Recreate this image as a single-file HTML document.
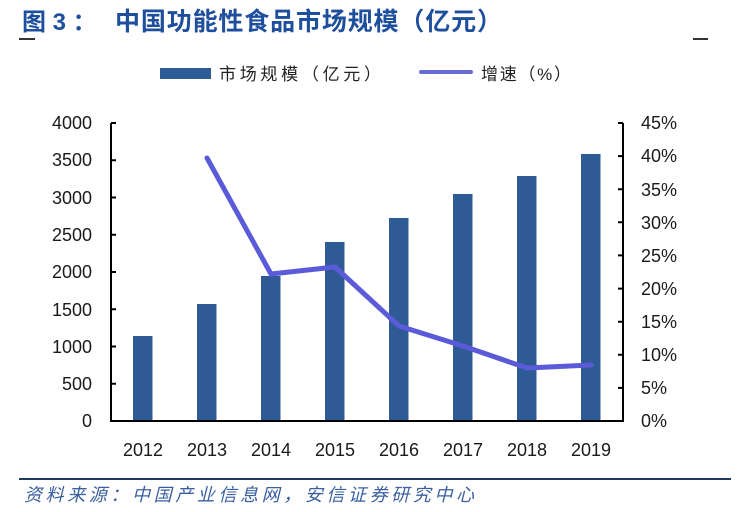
<!DOCTYPE html>
<html><head><meta charset="utf-8"><style>
html,body{margin:0;padding:0;background:#fff;}
svg{display:block;}
.t{font-family:"Liberation Sans",Arial,sans-serif;font-size:18px;fill:#1a1a1a;}
</style></head><body>
<svg width="740" height="512" viewBox="0 0 740 512" xmlns="http://www.w3.org/2000/svg">
<text x="22" y="30" font-family="'Liberation Sans','Noto Sans CJK SC',sans-serif" font-size="24" font-weight="bold" fill="#1e4f9c">图 3 ：</text>
<text x="115" y="30" font-family="'Liberation Sans','Noto Sans CJK SC',sans-serif" font-size="25" font-weight="bold" fill="#1e4f9c" textLength="387" lengthAdjust="spacing">中国功能性食品市场规模（亿元）</text>
<rect x="19" y="38" width="16" height="2" fill="#333"/>
<rect x="693" y="38" width="15" height="2" fill="#333"/>
<rect x="160" y="68" width="51" height="11" fill="#2e5a95"/>
<text x="219" y="80" font-family="'Liberation Sans','Noto Sans CJK SC',sans-serif" font-size="17" fill="#222" textLength="162" lengthAdjust="spacing">市场规模（亿元）</text>
<rect x="419" y="70" width="54" height="4" rx="2" fill="#6a6ad8"/>
<text x="481" y="80" font-family="'Liberation Sans','Noto Sans CJK SC',sans-serif" font-size="17" fill="#222" textLength="90" lengthAdjust="spacing">增速（%）</text>
<g fill="#2e5a95">
<rect x="133" y="336" width="19.5" height="85"/>
<rect x="197" y="304" width="19.5" height="117"/>
<rect x="261" y="276" width="19.5" height="145"/>
<rect x="325" y="242" width="19.5" height="179"/>
<rect x="389" y="218" width="19.5" height="203"/>
<rect x="453" y="194" width="19.5" height="227"/>
<rect x="517" y="176" width="19.5" height="245"/>
<rect x="581" y="154" width="19.5" height="267"/>
</g>
<g stroke="#000" stroke-width="2" fill="none">
<path d="M111 123 V421 H623 V123"/>
<path d="M111 123h5M111 160.25h5M111 197.5h5M111 234.75h5M111 272h5M111 309.25h5M111 346.5h5M111 383.75h5"/>
<path d="M623 123h-5M623 156.1h-5M623 189.2h-5M623 222.3h-5M623 255.4h-5M623 288.6h-5M623 321.7h-5M623 354.8h-5M623 387.9h-5"/>
</g>
<polyline points="207,158 271,274 335,267 399,326 463,346 527,368 591,365" fill="none" stroke="#5b5bd9" stroke-width="5" stroke-linejoin="round" stroke-linecap="round"/>
<g class="t" text-anchor="end">
<text x="92" y="129">4000</text><text x="92" y="166">3500</text><text x="92" y="204">3000</text><text x="92" y="241">2500</text><text x="92" y="278">2000</text><text x="92" y="316">1500</text><text x="92" y="353">1000</text><text x="92" y="390">500</text><text x="92" y="427">0</text>
</g>
<g class="t">
<text x="641" y="129">45%</text><text x="641" y="162">40%</text><text x="641" y="196">35%</text><text x="641" y="229">30%</text><text x="641" y="262">25%</text><text x="641" y="295">20%</text><text x="641" y="328">15%</text><text x="641" y="361">10%</text><text x="641" y="394">5%</text><text x="641" y="427">0%</text>
</g>
<g class="t" text-anchor="middle">
<text x="143" y="456">2012</text><text x="207" y="456">2013</text><text x="271" y="456">2014</text><text x="335" y="456">2015</text><text x="399" y="456">2016</text><text x="463" y="456">2017</text><text x="527" y="456">2018</text><text x="591" y="456">2019</text>
</g>
<rect x="19" y="478" width="712" height="2" fill="#1f3a5f"/>
<text x="24" y="501" font-family="'Liberation Sans','Noto Sans CJK SC',sans-serif" font-size="18" font-style="italic" fill="#3a5fa0" textLength="450" lengthAdjust="spacing">资料来源：中国产业信息网，安信证券研究中心</text>
</svg>
</body></html>
